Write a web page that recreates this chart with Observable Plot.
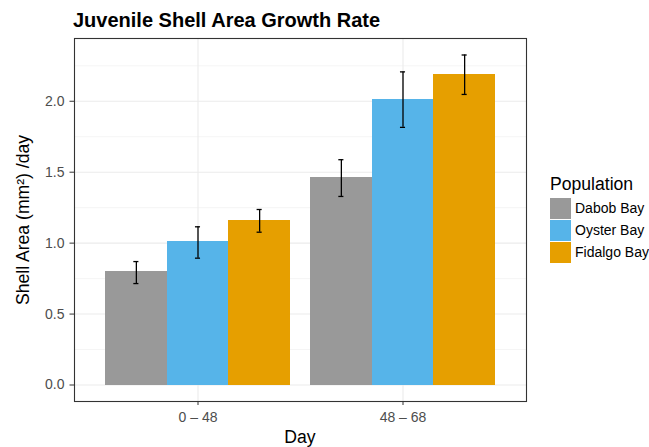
<!DOCTYPE html>
<html>
<head>
<meta charset="utf-8">
<script src="https://cdn.jsdelivr.net/npm/d3@7"></script>
<script src="https://cdn.jsdelivr.net/npm/@observablehq/plot@0.6"></script>
<style>
  html, body { margin: 0; padding: 0; background: #ffffff; }
  #wrap { position: relative; width: 649px; height: 447px; font-family: 'Liberation Sans', Arial, Helvetica, sans-serif; color: #000; }
  #title { position: absolute; left: 73px; top: 10px; font-size: 20px; line-height: 20px; font-weight: bold; white-space: nowrap; }
  #chart { position: absolute; left: 0; top: 30px; }
  #ylab { position: absolute; left: 23px; top: 220px; transform: translate(-50%, -50%) rotate(-90deg); font-size: 17.6px; line-height: 18px; white-space: nowrap; }
  #xlab { position: absolute; left: 300px; top: 437px; transform: translate(-50%, -50%); font-size: 17.6px; line-height: 18px; white-space: nowrap; }
  #legend { position: absolute; left: 550px; top: 176px; }
  #legend .lt { font-size: 17.6px; line-height: 17.6px; height: 21px; white-space: nowrap; }
  #legend .row { display: flex; align-items: center; height: 22px; }
  #legend .sw { width: 21px; height: 21px; margin-right: 4px; }
  #legend .lab { font-size: 14px; white-space: nowrap; }
</style>
</head>
<body>
<div id="wrap">
  <div id="title"></div>
  <div id="chart"></div>
  <div id="ylab"></div>
  <div id="xlab"></div>
  <div id="legend"></div>
</div>
<script>
// ---- data ----
const titleText = "Juvenile Shell Area Growth Rate";
const xTitle = "Day";
const yTitle = "Shell Area (mm²) /day";
const legendTitle = "Population";
const days = ["0 – 48", "48 – 68"];
const populations = ["Dabob Bay", "Oyster Bay", "Fidalgo Bay"];
const popColors = ["#999999", "#56B4E9", "#E69F00"];
const yTicks = [0, 0.5, 1.0, 1.5, 2.0];
const yMinorTicks = [0.25, 0.75, 1.25, 1.75, 2.25];

const dabobMean = [0.800, 1.461];
const dabobLow = [0.715, 1.329];
const dabobHigh = [0.870, 1.588];
const oysterMean = [1.010, 2.011];
const oysterLow = [0.894, 1.816];
const oysterHigh = [1.115, 2.207];
const fidalgoMean = [1.157, 2.188];
const fidalgoLow = [1.077, 2.048];
const fidalgoHigh = [1.237, 2.326];

// ---- table ----
const series = [
  [dabobMean, dabobLow, dabobHigh],
  [oysterMean, oysterLow, oysterHigh],
  [fidalgoMean, fidalgoLow, fidalgoHigh]
];
const rows = [];
days.forEach((day, i) => {
  populations.forEach((pop, j) => {
    rows.push({day, pop, mean: series[j][0][i], low: series[j][1][i], high: series[j][2][i]});
  });
});

// ---- layout ----
const W = 649, H = 417, mL = 74, mR = 123, mT = 8, mB = 46;
const padInner = 0.1, padOuter = 0.15;           // ggplot: width 0.9, 0.6 unit expansion
const step = (W - mL - mR) / (days.length - padInner + 2 * padOuter);
const bw = step * (1 - padInner);
const nPop = populations.length;
const sub = bw / nPop;                            // dodged sub-bar width
const capHalf = 2.5;

// ggplot-like 5% expansion
const yMax = d3.max(rows, d => d.high);
const yDomain = [-0.05 * yMax, yMax * 1.05];

const font = "'Liberation Sans', Arial, Helvetica, sans-serif";

const popMarks = populations.flatMap((pop, j) => {
  const data = rows.filter(d => d.pop === pop);
  const c = (j + 0.5) * sub;
  return [
    Plot.barY(data, {x: "day", y: "mean", fill: "pop", shapeRendering: "crispEdges",
      insetLeft: j * sub, insetRight: (nPop - 1 - j) * sub}),
    Plot.ruleX(data, {x: "day", y1: "low", y2: "high", stroke: "#000", strokeWidth: 1.3, dx: c - bw / 2}),
    Plot.tickY(data, {x: "day", y: "low", stroke: "#000", strokeWidth: 1.3, insetLeft: c - capHalf, insetRight: bw - c - capHalf}),
    Plot.tickY(data, {x: "day", y: "high", stroke: "#000", strokeWidth: 1.3, insetLeft: c - capHalf, insetRight: bw - c - capHalf})
  ];
});

const chart = Plot.plot({
  width: W,
  height: H,
  marginTop: mT,
  marginBottom: mB,
  marginLeft: mL,
  marginRight: mR,
  style: {fontFamily: font, background: "transparent", overflow: "visible"},
  x: {domain: days, paddingInner: padInner, paddingOuter: padOuter},
  y: {domain: yDomain},
  color: {domain: populations, range: popColors},
  marks: [
    Plot.ruleY(yMinorTicks, {stroke: "#ebebeb", strokeWidth: 0.55}),
    Plot.ruleY(yTicks, {stroke: "#ebebeb", strokeWidth: 1.1}),
    Plot.gridX({stroke: "#ebebeb", strokeOpacity: 1, strokeWidth: 1.1}),
    ...popMarks,
    Plot.frame({stroke: "#333333", strokeWidth: 1.1}),
    Plot.axisY({ticks: yTicks, tickFormat: d3.format(".1f"), tickSize: 4.5, tickPadding: 5.5,
      stroke: "#333333", fill: "#4d4d4d", fontSize: 14, label: null}),
    Plot.axisX({tickSize: 4, tickPadding: 6.5, stroke: "#333333", fill: "#4d4d4d", fontSize: 14, label: null})
  ]
});
document.getElementById("chart").appendChild(chart);

document.getElementById("title").textContent = titleText;
document.getElementById("xlab").textContent = xTitle;
document.getElementById("ylab").textContent = yTitle;

const legend = document.getElementById("legend");
const lt = document.createElement("div");
lt.className = "lt";
lt.textContent = legendTitle;
legend.appendChild(lt);
populations.forEach((p, i) => {
  const row = document.createElement("div");
  row.className = "row";
  const sw = document.createElement("div");
  sw.className = "sw";
  sw.style.background = popColors[i];
  const lab = document.createElement("div");
  lab.className = "lab";
  lab.textContent = p;
  row.appendChild(sw);
  row.appendChild(lab);
  legend.appendChild(row);
});
</script>
</body>
</html>
